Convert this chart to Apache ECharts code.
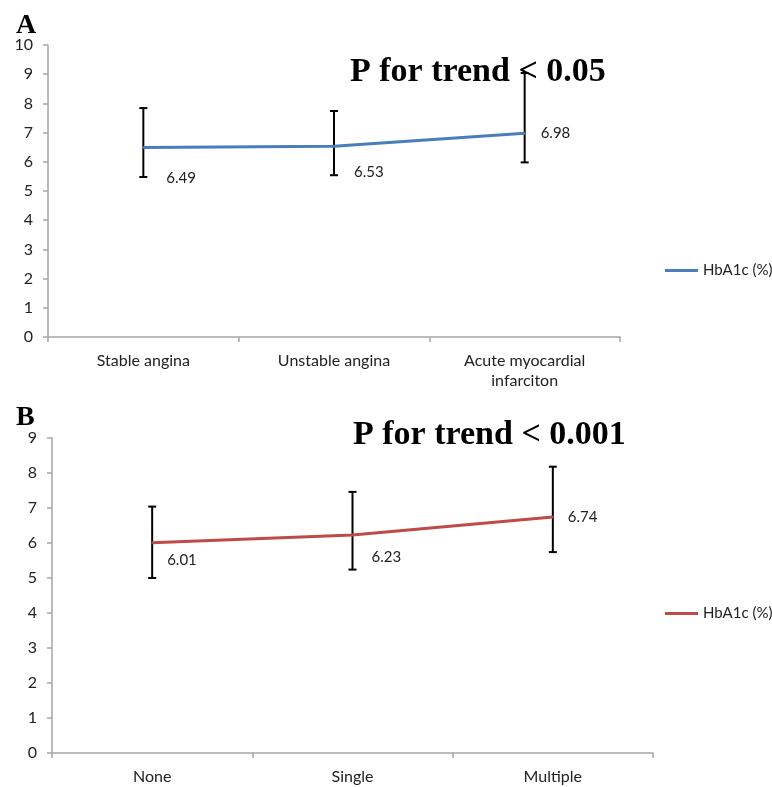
<!DOCTYPE html>
<html>
<head>
<meta charset="utf-8">
<script src="https://cdn.jsdelivr.net/npm/echarts@6/dist/echarts.min.js"></script>
<style>
html,body{margin:0;padding:0;background:#fff;}
#chart{width:772px;height:787px;}
</style>
</head>
<body>
<div id="chart"></div>
<script>
// ---- Data ----
const catsA = ['Stable angina', 'Unstable angina', 'Acute myocardial\ninfarciton'];
const meanA = [6.49, 6.53, 6.98];
const lowA = [5.48, 5.54, 5.98];
const highA = [7.84, 7.74, 9.04];

const catsB = ['None', 'Single', 'Multiple'];
const meanB = [6.01, 6.23, 6.74];
const lowB = [5.00, 5.24, 5.74];
const highB = [7.04, 7.46, 8.18];

const ticksA = [0, 10, 1];   // min, max, interval
const ticksB = [0, 9, 1];

const seriesName = 'HbA1c (%)';
const panelTitles = ['A', 'B'];
const trendTexts = ['P for trend < 0.05', 'P for trend < 0.001'];

// ---- Styles ----
const FONT = 'Lato, "Open Sans", sans-serif';
const SERIF = '"Liberation Serif", "DejaVu Serif", serif';
const AXIS_COLOR = '#a6a6a6';
const BLUE = '#4a7ebb';
const RED = '#be4b48';

const labelOffsA = [[17, 31], [14, 26], [10, 0]];
const labelOffsB = [[9, 18], [13, 22], [9, 0]];

function errRender(params, api) {
  const x = api.value(0);
  const lo = api.coord([x, api.value(1)]);
  const hi = api.coord([x, api.value(2)]);
  const cap = 4;
  const st = { stroke: '#000', lineWidth: 2 };
  return {
    type: 'group',
    children: [
      { type: 'line', shape: { x1: hi[0], y1: hi[1], x2: lo[0], y2: lo[1] }, style: st },
      { type: 'line', shape: { x1: hi[0] - cap, y1: hi[1], x2: hi[0] + cap, y2: hi[1] }, style: st },
      { type: 'line', shape: { x1: lo[0] - cap, y1: lo[1], x2: lo[0] + cap, y2: lo[1] }, style: st }
    ]
  };
}

function lineData(vals, offs) {
  return vals.map((v, i) => ({
    value: v,
    label: { offset: offs[i] }
  }));
}

function xAxisCfg(cats, grid) {
  return {
    type: 'category', gridIndex: grid, data: cats,
    axisLine: { lineStyle: { color: AXIS_COLOR, width: 1.5 } },
    axisTick: { show: true, length: 5, lineStyle: { color: AXIS_COLOR, width: 1.5 } },
    axisLabel: { color: '#222', fontFamily: FONT, fontSize: 16, margin: 14, lineHeight: 20, interval: 0 },
    splitLine: { show: false }
  };
}
function yAxisCfg(t, grid) {
  return {
    type: 'value', gridIndex: grid, min: t[0], max: t[1], interval: t[2],
    axisLine: { show: true, lineStyle: { color: AXIS_COLOR, width: 1.5 } },
    axisTick: { show: true, length: 5, lineStyle: { color: AXIS_COLOR, width: 1.5 } },
    axisLabel: { color: '#222', fontFamily: FONT, fontSize: 16, margin: 15 },
    splitLine: { show: false }
  };
}

const chart = echarts.init(document.getElementById('chart'), null, { renderer: 'canvas' });
const option = {
  animation: false,
  backgroundColor: '#fff',
  title: [
    { text: panelTitles[0], left: 11, top: 7, textStyle: { fontFamily: SERIF, fontWeight: 'bold', fontSize: 28, color: '#000' } },
    { text: panelTitles[1], left: 11, top: 399, textStyle: { fontFamily: SERIF, fontWeight: 'bold', fontSize: 28, color: '#000' } },
    { text: trendTexts[0], left: 345, top: 50, textStyle: { fontFamily: SERIF, fontWeight: 'bold', fontSize: 34, color: '#000' } },
    { text: trendTexts[1], left: 348, top: 413, textStyle: { fontFamily: SERIF, fontWeight: 'bold', fontSize: 34, color: '#000' } }
  ],
  legend: [
    { left: 660, top: 258, icon: 'rect', itemWidth: 33, itemHeight: 3, itemGap: 5,
      textStyle: { fontFamily: FONT, fontSize: 15, color: '#222' },
      data: [{ name: seriesName, itemStyle: { color: BLUE } }] },
    { left: 660, top: 601, icon: 'rect', itemWidth: 33, itemHeight: 3, itemGap: 5,
      textStyle: { fontFamily: FONT, fontSize: 15, color: '#222' },
      data: [{ name: seriesName + ' ', itemStyle: { color: RED } }] }
  ],
  grid: [
    { left: 48, top: 45, width: 572, height: 292 },
    { left: 52, top: 438, width: 601, height: 316 }
  ],
  xAxis: [xAxisCfg(catsA, 0), xAxisCfg(catsB, 1)],
  yAxis: [yAxisCfg(ticksA, 0), yAxisCfg(ticksB, 1)],
  series: [
    {
      type: 'custom', xAxisIndex: 0, yAxisIndex: 0, renderItem: errRender, z: 3,
      data: catsA.map((c, i) => [i, lowA[i], highA[i]])
    },
    {
      type: 'custom', xAxisIndex: 1, yAxisIndex: 1, renderItem: errRender, z: 3,
      data: catsB.map((c, i) => [i, lowB[i], highB[i]])
    },
    {
      name: seriesName, type: 'line', xAxisIndex: 0, yAxisIndex: 0, z: 4,
      data: lineData(meanA, labelOffsA),
      symbol: 'circle', symbolSize: 2, showSymbol: true,
      lineStyle: { color: BLUE, width: 3 }, itemStyle: { color: BLUE },
      label: { show: true, position: 'right', distance: 5, fontFamily: FONT, fontSize: 15, color: '#222' }
    },
    {
      name: seriesName + ' ', type: 'line', xAxisIndex: 1, yAxisIndex: 1, z: 4,
      data: lineData(meanB, labelOffsB),
      symbol: 'circle', symbolSize: 2, showSymbol: true,
      lineStyle: { color: RED, width: 3 }, itemStyle: { color: RED },
      label: { show: true, position: 'right', distance: 5, fontFamily: FONT, fontSize: 15, color: '#222' }
    }
  ]
};
chart.setOption(option);
</script>
</body>
</html>
